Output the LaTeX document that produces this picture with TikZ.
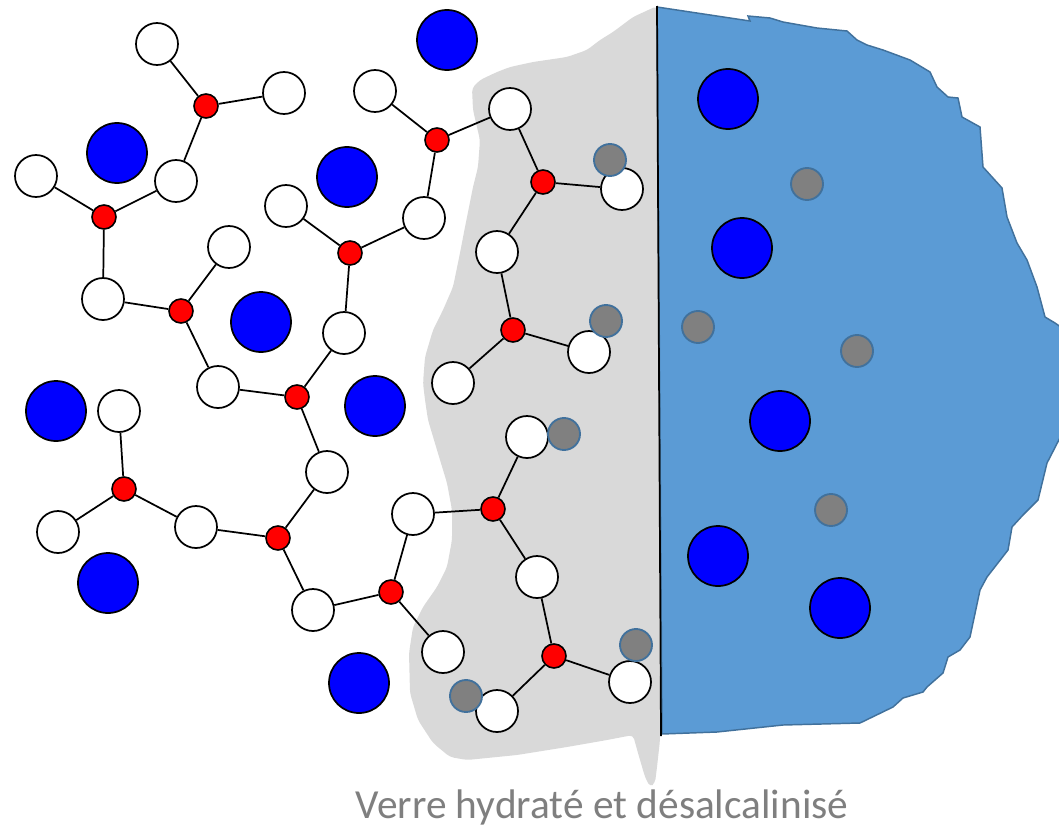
\documentclass[tikz,border=0pt]{standalone}
\usepackage{fontspec}
\setmainfont{Carlito}
\definecolor{hydlayer}{HTML}{D9D9D9}
\definecolor{bulk}{HTML}{5B9BD5}
\definecolor{bulkedge}{HTML}{41719C}
\definecolor{hydfill}{HTML}{808080}
\definecolor{captiongray}{HTML}{7F7F7F}
\begin{document}
\begin{tikzpicture}[x=0.75pt,y=-0.75pt,
  oxy/.style={circle,draw=black,fill=white,line width=1.3pt,minimum size=31.5pt,inner sep=0pt},
  sil/.style={circle,draw=black,fill=red,line width=1.2pt,minimum size=18pt,inner sep=0pt},
  sod/.style={circle,draw=black,fill=blue,line width=1.3pt,minimum size=45pt,inner sep=0pt},
  hyd/.style={circle,draw=bulkedge,fill=hydfill,line width=1.4pt,minimum size=24pt,inner sep=0pt},
  bond/.style={line width=1.3pt}]
\useasboundingbox (0,0) rectangle (1059,828);

% hydrated, dealkalinised layer
\fill[hydlayer, rounded corners=3pt] (657,6) -- (633,17) -- (613,32) -- (600,40) -- (587,50)
  -- (567,57) -- (533,62) -- (510,67) -- (497,72) -- (480,80) -- (472,88) -- (473,110)
  -- (480,140) -- (478,167) -- (473,187) -- (465,227) -- (460,253) -- (453,287) -- (443,310)
  -- (433,330) -- (425,357) -- (423,383) -- (425,400) -- (428,420) -- (437,450) -- (447,483)
  -- (452,510) -- (452,540) -- (447,567) -- (437,587) -- (423,607) -- (413,627) -- (409,653)
  -- (410,693) -- (418,720) -- (433,743) -- (450,757) -- (467,760) -- (517,755) -- (567,747)
  -- (607,740) -- (633,735) -- (638,753) -- (645,777) -- (650,787) -- (655,783) -- (657,767)
  -- (660,740) -- cycle;

% aqueous solution
\filldraw[fill=bulk, draw=bulkedge, line width=1.1pt] (657,7) -- (750,21) -- (748,16) -- (770,18)
  -- (783,22) -- (817,28) -- (847,31) -- (857,40) -- (867,45) -- (883,50) -- (910,60)
  -- (930,72) -- (937,87) -- (948,97) -- (958,98) -- (962,117) -- (980,127) -- (983,167)
  -- (1002,188) -- (1007,217) -- (1017,243) -- (1027,260) -- (1037,287) -- (1045,317)
  -- (1055,323) -- (1065,330) -- (1065,428) -- (1047,463) -- (1038,500) -- (1023,515)
  -- (1012,527) -- (1008,550) -- (987,577) -- (980,590) -- (970,637) -- (960,650)
  -- (948,657) -- (943,673) -- (927,687) -- (923,692) -- (903,698) -- (893,707)
  -- (860,723) -- (783,725) -- (717,732) -- (662,734) -- cycle;

% interface
\coordinate (itop) at (657,6);
\coordinate (ibot) at (661,736);
\draw[line width=1.3pt] (itop) -- (ibot);

% sodium ions
\foreach \p [count=\i] in {(447,40),(117,153),(347,177),(261,322),(56,411),(375,406),
    (108,583),(359,683),(728,99),(742,248),(780,421),(718,556),(840,608)}
  \node[sod] (na\i) at \p {};

% oxygen atoms
\node[oxy] (o1) at (157,44) {};
\node[oxy] (o2) at (284,93) {};
\node[oxy] (o3) at (375,91) {};
\node[oxy] (o4) at (36,176) {};
\node[oxy] (o5) at (176,181) {};
\node[oxy] (o6) at (286,206) {};
\node[oxy] (o7) at (424,218) {};
\node[oxy] (o8) at (229,247) {};
\node[oxy] (o9) at (103,299) {};
\node[oxy] (o10) at (344,333) {};
\node[oxy] (o11) at (218,387) {};
\node[oxy] (o12) at (119,411) {};
\node[oxy] (o13) at (58,532) {};
\node[oxy] (o14) at (196,527) {};
\node[oxy] (o15) at (327,472) {};
\node[oxy] (o16) at (313,610) {};
\node[oxy] (o17) at (413,514) {};
\node[oxy] (o18) at (443,652) {};
\node[oxy] (o19) at (510,109) {};
\node[oxy] (o20) at (622,189) {};
\node[oxy] (o21) at (497,252) {};
\node[oxy] (o22) at (589,352) {};
\node[oxy] (o23) at (453,383) {};
\node[oxy] (o24) at (527,437) {};
\node[oxy] (o25) at (537,577) {};
\node[oxy] (o26) at (630,682) {};
\node[oxy] (o27) at (497,711) {};

% silicon atoms
\node[sil] (s1) at (206,106) {};
\node[sil] (s2) at (104,217) {};
\node[sil] (s3) at (181,311) {};
\node[sil] (s4) at (297,397) {};
\node[sil] (s5) at (350,253) {};
\node[sil] (s6) at (437,140) {};
\node[sil] (s7) at (543,182) {};
\node[sil] (s8) at (513,330) {};
\node[sil] (s9) at (124,489) {};
\node[sil] (s10) at (278,538) {};
\node[sil] (s11) at (391,592) {};
\node[sil] (s12) at (493,509) {};
\node[sil] (s13) at (554,656) {};

% Si--O bonds
\foreach \s/\a/\b/\c in {s1/o1/o2/o5, s2/o4/o5/o9, s3/o9/o8/o11, s4/o11/o10/o15,
    s5/o6/o7/o10, s6/o3/o19/o7, s7/o19/o20/o21, s8/o21/o22/o23, s9/o12/o13/o14,
    s10/o14/o15/o16, s11/o16/o17/o18, s12/o17/o24/o25, s13/o25/o26/o27}
  \draw[bond] (\s) -- (\a) (\s) -- (\b) (\s) -- (\c);

% hydrogen / hydronium
\foreach \p [count=\i] in {(610,160),(807,184),(606,321),(698,327),(857,351),(564,434),
    (831,510),(636,645),(466,696)}
  \node[hyd] (h\i) at \p {};

% caption
\node[anchor=base, text=captiongray, font=\fontsize{31}{37}\selectfont, inner sep=0pt]
  (cap) at (602,818) {Verre hydraté et désalcalinisé};
\end{tikzpicture}
\end{document}
